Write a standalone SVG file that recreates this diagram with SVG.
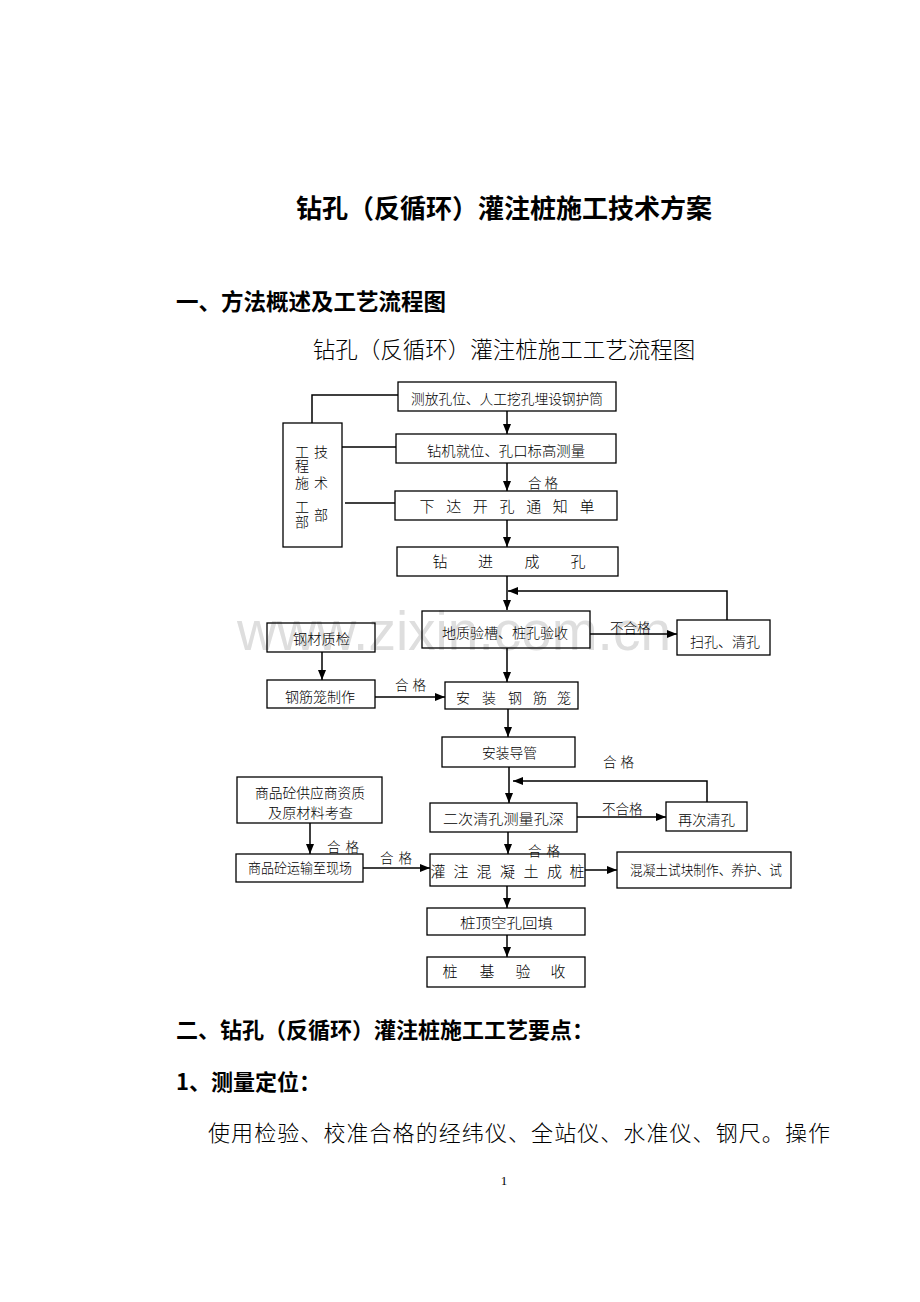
<svg xmlns="http://www.w3.org/2000/svg" width="920" height="1302" viewBox="0 0 920 1302">
<style>
.bg{fill:#fff}
.box{fill:none;stroke:#000;stroke-width:1.3}
.ln{fill:none;stroke:#000;stroke-width:1.5}
.t{font-family:"Noto Sans CJK SC","Noto Sans",sans-serif;font-size:14px;font-weight:300;fill:#000}
.c{text-anchor:middle}
.s{font-size:15px}
.lbl{font-family:"Noto Sans CJK SC","Noto Sans",sans-serif;font-size:13.5px;font-weight:300;fill:#000}
.h{font-family:"Noto Sans CJK SC",sans-serif;fill:#000}
.wm{font-family:"Liberation Sans",Arial,sans-serif;font-size:55px;fill:#dedede}
</style>
<defs>
<marker id="ah" markerWidth="10" markerHeight="8" refX="10" refY="4" orient="auto" markerUnits="userSpaceOnUse"><path d="M0,0 L10,4 L0,8 z" fill="#000"/></marker>
</defs>
<rect class="bg" x="0" y="0" width="920" height="1302"/>

<g id="headings">
<text class="h" x="504" y="218" text-anchor="middle" font-size="26" font-weight="700">钻孔（反循环）灌注桩施工技术方案</text>
<text class="h" x="176" y="310" font-size="22.5" font-weight="700">一、方法概述及工艺流程图</text>
<text class="h" x="504" y="358" text-anchor="middle" font-size="22.5" font-weight="300">钻孔（反循环）灌注桩施工工艺流程图</text>
</g>

<text id="watermark" class="wm" x="237" y="650">www.zixin.com.cn</text>

<g id="connectors">
<polyline class="ln" points="398,395 312,395 312,423"/>
<line class="ln" x1="342" y1="447" x2="396" y2="447"/>
<line class="ln" x1="345" y1="503" x2="395" y2="503"/>
<line class="ln" x1="507" y1="411" x2="507" y2="434" marker-end="url(#ah)"/>
<line class="ln" x1="507" y1="463" x2="507" y2="491" marker-end="url(#ah)"/>
<line class="ln" x1="507" y1="520" x2="507" y2="547" marker-end="url(#ah)"/>
<line class="ln" x1="507" y1="576" x2="507" y2="610" marker-end="url(#ah)"/>
<polyline class="ln" points="727,620 727,591 508,591" marker-end="url(#ah)"/>
<line class="ln" x1="590" y1="634" x2="677" y2="634" marker-end="url(#ah)"/>
<line class="ln" x1="322" y1="652" x2="322" y2="680" marker-end="url(#ah)"/>
<line class="ln" x1="375" y1="697" x2="445" y2="697" marker-end="url(#ah)"/>
<line class="ln" x1="507" y1="648" x2="507" y2="682" marker-end="url(#ah)"/>
<line class="ln" x1="508" y1="709" x2="508" y2="737" marker-end="url(#ah)"/>
<line class="ln" x1="509" y1="767" x2="509" y2="803" marker-end="url(#ah)"/>
<polyline class="ln" points="707,802 707,781 513,781" marker-end="url(#ah)"/>
<line class="ln" x1="577" y1="817" x2="666" y2="817" marker-end="url(#ah)"/>
<line class="ln" x1="310" y1="823" x2="310" y2="854" marker-end="url(#ah)"/>
<line class="ln" x1="363" y1="868" x2="430" y2="868" marker-end="url(#ah)"/>
<line class="ln" x1="508" y1="832" x2="508" y2="854" marker-end="url(#ah)"/>
<line class="ln" x1="585" y1="870" x2="617" y2="870" marker-end="url(#ah)"/>
<line class="ln" x1="507" y1="886" x2="507" y2="908" marker-end="url(#ah)"/>
<line class="ln" x1="507" y1="935" x2="507" y2="957" marker-end="url(#ah)"/>
<text class="lbl" x="528" y="488" letter-spacing="3">合格</text>
<text class="lbl" x="610" y="633">不合格</text>
<text class="lbl" x="395" y="690" letter-spacing="4">合格</text>
<text class="lbl" x="603" y="767" letter-spacing="4">合格</text>
<text class="lbl" x="602" y="814">不合格</text>
<text class="lbl" x="327" y="852" letter-spacing="5">合格</text>
<text class="lbl" x="380" y="863" letter-spacing="5">合格</text>
<text class="lbl" x="528" y="856" letter-spacing="5">合格</text>
</g>

<g id="n-dept">
<rect class="box" x="283" y="423" width="59" height="124"/>
<text class="t c" font-size="13" x="302" y="456.5">工</text>
<text class="t c" font-size="13" x="302" y="470.5">程</text>
<text class="t c" font-size="13" x="302" y="487.5">施</text>
<text class="t c" font-size="13" x="302" y="511.5">工</text>
<text class="t c" font-size="13" x="302" y="526.5">部</text>
<text class="t c" font-size="13" x="321" y="456.5">技</text>
<text class="t c" font-size="13" x="321" y="487.5">术</text>
<text class="t c" font-size="13" x="321" y="519.5">部</text>
</g>
<g id="n1"><rect class="box" x="398" y="382" width="218" height="29"/><text class="t" x="411" y="404" textLength="192" lengthAdjust="spacingAndGlyphs">测放孔位、人工挖孔埋设钢护筒</text></g>
<g id="n2"><rect class="box" x="396" y="434" width="220" height="29"/><text class="t" x="427" y="456" textLength="158" lengthAdjust="spacingAndGlyphs">钻机就位、孔口标高测量</text></g>
<g id="n3"><rect class="box" x="395" y="491" width="222" height="29"/><text class="t s c" x="427 453.7 480.3 507 533.7 560.3 587" y="512">下达开孔通知单</text></g>
<g id="n4"><rect class="box" x="397" y="547" width="221" height="29"/><text class="t s c" x="440 485.5 532 578" y="567">钻进成孔</text></g>
<g id="n5"><rect class="box" x="422" y="611" width="168" height="37"/><text class="t" x="442" y="638" textLength="126" lengthAdjust="spacingAndGlyphs">地质验槽、桩孔验收</text></g>
<g id="n6"><rect class="box" x="677" y="620" width="93" height="35"/><text class="t" x="690" y="647" textLength="70" lengthAdjust="spacingAndGlyphs">扫孔、清孔</text></g>
<g id="n7"><rect class="box" x="267" y="623" width="108" height="29"/><text class="t" x="293" y="644" textLength="57" lengthAdjust="spacingAndGlyphs">钢材质检</text></g>
<g id="n8"><rect class="box" x="267" y="680" width="108" height="28"/><text class="t" x="285" y="702" textLength="70" lengthAdjust="spacingAndGlyphs">钢筋笼制作</text></g>
<g id="n9"><rect class="box" x="445" y="682" width="133" height="27"/><text class="t c" font-size="14.5" x="463 489 515 540 564" y="703">安装钢筋笼</text></g>
<g id="n10"><rect class="box" x="442" y="737" width="133" height="30"/><text class="t" x="482" y="758" textLength="55" lengthAdjust="spacingAndGlyphs">安装导管</text></g>
<g id="n11"><rect class="box" x="237" y="777" width="145" height="46"/><text class="t" x="255" y="798" textLength="110" lengthAdjust="spacingAndGlyphs">商品砼供应商资质</text><text class="t" x="268" y="818" textLength="85" lengthAdjust="spacingAndGlyphs">及原材料考查</text></g>
<g id="n12"><rect class="box" x="236" y="854" width="127" height="28"/><text class="t" x="248" y="873" textLength="104" lengthAdjust="spacingAndGlyphs">商品砼运输至现场</text></g>
<g id="n13"><rect class="box" x="430" y="803" width="147" height="29"/><text class="t" x="443" y="824" textLength="121" lengthAdjust="spacingAndGlyphs">二次清孔测量孔深</text></g>
<g id="n14"><rect class="box" x="666" y="802" width="81" height="29"/><text class="t" x="678" y="825" textLength="57" lengthAdjust="spacingAndGlyphs">再次清孔</text></g>
<g id="n15"><rect class="box" x="430" y="854" width="155" height="32"/><text class="t s c" x="438 461 484 507.5 531 554.5 577" y="877">灌注混凝土成桩</text></g>
<g id="n16"><rect class="box" x="617" y="852" width="174" height="36"/><text class="t" x="630" y="875" textLength="152" lengthAdjust="spacingAndGlyphs">混凝土试块制作、养护、试</text></g>
<g id="n17"><rect class="box" x="427" y="908" width="158" height="27"/><text class="t" x="460" y="928" textLength="93" lengthAdjust="spacingAndGlyphs">桩顶空孔回填</text></g>
<g id="n18"><rect class="box" x="427" y="957" width="158" height="30"/><text class="t s c" x="450 487 523 558" y="977">桩基验收</text></g>

<g id="body">
<text class="h" x="176" y="1038" font-size="22" font-weight="700">二、钻孔（反循环）灌注桩施工工艺要点：</text>
<text class="h" x="176" y="1090" font-size="22" font-weight="700">1、测量定位：</text>
<text class="h" x="208" y="1141" font-size="22" font-weight="300" textLength="622" lengthAdjust="spacing">使用检验、校准合格的经纬仪、全站仪、水准仪、钢尺。操作</text>
<text x="504" y="1185" text-anchor="middle" font-family="Liberation Serif,serif" font-size="13" fill="#000">1</text>
</g>
</svg>
